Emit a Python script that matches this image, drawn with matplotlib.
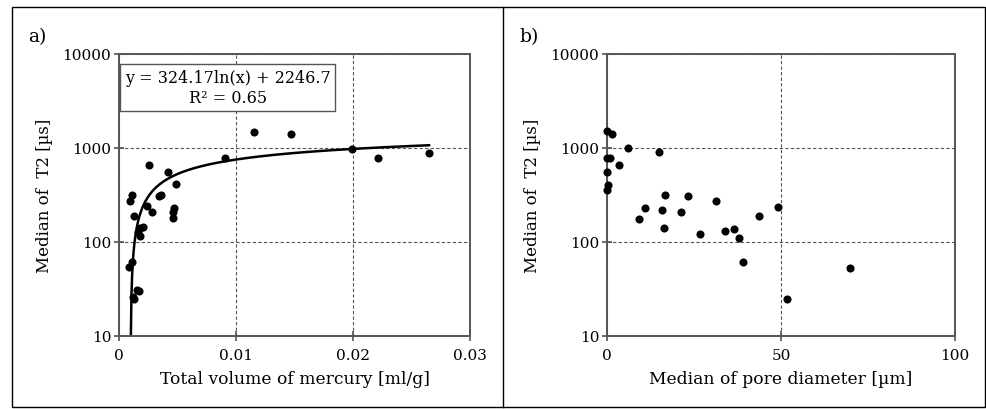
import matplotlib
matplotlib.use("Agg")
import matplotlib.pyplot as plt
import numpy as np
from matplotlib.patches import Rectangle
from matplotlib.lines import Line2D

plt.rcParams["font.family"] = "DejaVu Serif"
plt.rcParams["font.size"] = 11

# panel a: total volume of mercury [ml/g] vs median T2 [us]
vol_hg = [0.00259, 0.00419, 0.00485, 0.00356, 0.00344, 0.00109, 0.00094,
          0.00242, 0.00280, 0.00128, 0.00473, 0.00464, 0.00459, 0.00906,
          0.00203, 0.00180, 0.00165, 0.00180, 0.00109, 0.00085, 0.00174,
          0.00128, 0.00155, 0.00120, 0.01154, 0.01467, 0.01989, 0.02211,
          0.02652]
t2_a = [659, 560, 411, 316, 305, 316, 275,
        240, 210, 187, 229, 207, 179, 777,
        143, 140, 127, 115, 61, 54, 30,
        25, 31, 26, 1490, 1409, 975, 777,
        885]

# panel b: median pore diameter [um] vs median T2 [us]
pore_d = [0.0, 1.3, 6.1, 14.8, 0.0, 1.0, 3.4, 0.1, 0.4, 0.0, 16.7, 23.3,
          31.3, 10.8, 15.9, 21.3, 9.2, 49.1, 43.6, 16.4, 26.8, 33.9, 36.5,
          37.8, 39.1, 69.9, 51.8]
t2_b = [1506, 1409, 993, 899, 777, 777, 659, 551, 407, 357, 318, 311,
        273, 228, 218, 208, 177, 237, 188, 142, 122, 131, 137,
        110, 62, 53, 25]

# log fit from the paper: y = 324.17 ln(x) + 2246.7
FIT_A, FIT_B = 324.17, 2246.7
FIT_RANGE = (0.00100, 0.0265)

SPINE = "#555555"


def style_axis(ax, xlim, xticks, xticklabels, xlabel):
    ax.set_yscale("log")
    ax.set_ylim(10, 10000)
    ax.set_yticks([10, 100, 1000, 10000])
    ax.set_yticklabels(["10", "100", "1000", "10000"])
    ax.minorticks_off()
    ax.set_xlim(*xlim)
    ax.set_xticks(xticks)
    ax.set_xticklabels(xticklabels)
    ax.set_xlabel(xlabel, labelpad=6, fontsize=12.3)
    ax.set_ylabel("Median of  T2 [µs]", labelpad=7, fontsize=12)
    ax.grid(True, color="#555555", linestyle=(0, (3, 2)), linewidth=0.8)
    for sp in ax.spines.values():
        sp.set_color(SPINE)
        sp.set_linewidth(1.4)
    ax.tick_params(direction="inout", length=7, width=1.2, color=SPINE,
                   labelsize=11)
    ax.tick_params(axis="x", pad=5)
    ax.tick_params(axis="y", pad=2)


fig = plt.figure(figsize=(9.87, 4.10), dpi=100)
ax_a = fig.add_axes([119 / 987, 1 - 337 / 410, 351 / 987, 282 / 410])
ax_b = fig.add_axes([607 / 987, 1 - 337 / 410, 348 / 987, 282 / 410])

# panel a
style_axis(ax_a, (0, 0.03), [0, 0.01, 0.02, 0.03],
           ["0", "0.01", "0.02", "0.03"], "Total volume of mercury [ml/g]")
ax_a.scatter(vol_hg, t2_a, s=34, color="black", zorder=3, linewidths=0)
xf = np.linspace(FIT_RANGE[0], FIT_RANGE[1], 400)
ax_a.plot(xf, FIT_A * np.log(xf) + FIT_B, color="black", lw=1.8, zorder=2)
ax_a.text(0.31, 0.948, "y = 324.17ln(x) + 2246.7\nR² = 0.65",
          transform=ax_a.transAxes, ha="center", va="top",
          multialignment="center", fontsize=11.5, linespacing=1.25,
          bbox=dict(boxstyle="square,pad=0.3", facecolor="white",
                    edgecolor=SPINE, linewidth=1.0), zorder=5)

# panel b
style_axis(ax_b, (0, 100), [0, 50, 100], ["0", "50", "100"],
           "Median of pore diameter [µm]")
ax_b.scatter(pore_d, t2_b, s=34, color="black", zorder=3, linewidths=0,
             clip_on=False)

# panel letters
fig.text(28 / 987, 1 - 37 / 410, "a)", fontsize=13.5, va="center")
fig.text(519 / 987, 1 - 37 / 410, "b)", fontsize=13.5, va="center")

# outer frame and divider
fig.add_artist(Rectangle((12 / 987, 1 - 408 / 410), 973 / 987, 400 / 410,
                         transform=fig.transFigure, fill=False,
                         edgecolor="black", linewidth=1.0))
fig.add_artist(Line2D([503 / 987, 503 / 987], [1 - 408 / 410, 1 - 8 / 410],
                      transform=fig.transFigure, color="black", linewidth=1.0))

fig.savefig("out.png", dpi=100)
